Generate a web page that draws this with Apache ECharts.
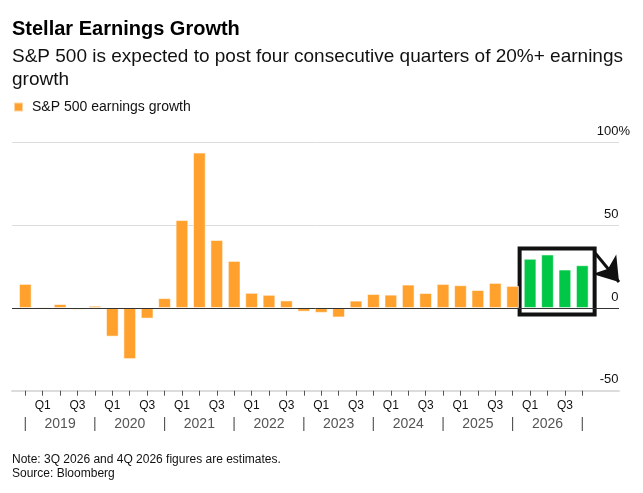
<!DOCTYPE html>
<html>
<head>
<meta charset="utf-8">
<script src="https://cdn.jsdelivr.net/npm/echarts@6/dist/echarts.min.js"></script>
<style>
  html, body { margin: 0; padding: 0; background: #fff; }
  #chart { width: 643px; height: 493px; }
</style>
</head>
<body>
<div id="chart"></div>
<script>
// quarters, 4Q 2018 .. 4Q 2026
var quarters = [
  '4Q 2018',
  '1Q 2019', '2Q 2019', '3Q 2019', '4Q 2019',
  '1Q 2020', '2Q 2020', '3Q 2020', '4Q 2020',
  '1Q 2021', '2Q 2021', '3Q 2021', '4Q 2021',
  '1Q 2022', '2Q 2022', '3Q 2022', '4Q 2022',
  '1Q 2023', '2Q 2023', '3Q 2023', '4Q 2023',
  '1Q 2024', '2Q 2024', '3Q 2024', '4Q 2024',
  '1Q 2025', '2Q 2025', '3Q 2025', '4Q 2025',
  '1Q 2026', '2Q 2026', '3Q 2026', '4Q 2026'
];
// S&P 500 earnings growth, % y/y
var growth = [
  14.6,
  0.8, 2.4, -1.0, 1.4,
  -17.3, -30.9, -6.4, 6.0,
  53.2, 94.0, 41.2, 28.5,
  9.2, 8.0, 4.6, -2.2,
  -2.9, -5.7, 4.5, 8.5,
  8.1, 14.2, 9.1, 14.6,
  13.8, 10.9, 15.2, 13.4,
  29.8, 32.4, 23.3, 25.9
];
var highlightFrom = '1Q 2026';
var yTicks = [-50, 0, 50, 100];

var orange = '#ffa12c';
var green = '#00c846';
var font = 'Liberation Sans';

var hi = quarters.indexOf(highlightFrom);
var barData = growth.map(function (v, i) {
  return { value: v, itemStyle: { color: i >= hi ? green : orange } };
});

var chart = echarts.init(document.getElementById('chart'));
chart.setOption({
  animation: false,
  textStyle: { fontFamily: font },
  title: {
    left: 12, top: 19, padding: 0, itemGap: 6,
    text: 'Stellar Earnings Growth',
    textStyle: { fontSize: 20, fontWeight: 'bold', color: '#000', lineHeight: 20 },
    subtext: 'S&P 500 is expected to post four consecutive quarters of 20%+ earnings\ngrowth',
    subtextStyle: { fontSize: 19, color: '#111', lineHeight: 23.4 }
  },
  legend: {
    left: 13, top: 100, padding: 0,
    icon: 'rect', itemWidth: 9, itemHeight: 9,
    textStyle: { fontSize: 14, color: '#111', padding: [0, 0, 0, 4] },
    data: ['S&P 500 earnings growth']
  },
  grid: [
    { left: 12, right: 24, top: 142.7, bottom: 102.3 },
    { left: 16.6, right: 52, top: 142.7, bottom: 102.3 }
  ],
  xAxis: [
    {
      gridIndex: 0, type: 'value', min: -0.764, max: 34.11,
      axisLine: { show: true, onZero: false, lineStyle: { color: '#dcdcdc', width: 2 } },
      axisTick: { show: false }, axisLabel: { show: false }, splitLine: { show: false }
    },
    {
      gridIndex: 1, type: 'category', data: quarters, position: 'bottom',
      axisLine: { show: false, onZero: false },
      axisTick: { show: true, alignWithLabel: true, interval: 0, length: 5, lineStyle: { color: '#555' } },
      axisLabel: {
        interval: 0, margin: 9, fontSize: 12, color: '#111',
        formatter: function (v, i) { return i % 4 === 1 ? 'Q1' : i % 4 === 3 ? 'Q3' : ''; }
      }
    },
    {
      gridIndex: 1, type: 'category', data: quarters, position: 'bottom',
      axisLine: { show: false, onZero: false }, axisTick: { show: false },
      axisLabel: {
        interval: 0, margin: 26, fontSize: 14, color: '#555',
        formatter: function (v, i) {
          if (i % 4 === 0) return '|';
          if (i % 4 === 2) return v.split(' ')[1];
          return '';
        }
      }
    }
  ],
  yAxis: [
    {
      gridIndex: 0, type: 'value', position: 'right',
      min: yTicks[0], max: yTicks[yTicks.length - 1], interval: 50,
      axisLine: { show: false }, axisTick: { show: false },
      splitLine: { lineStyle: { color: '#dcdcdc', width: 1 } },
      axisLabel: {
        margin: 11, align: 'right', verticalAlign: 'bottom',
        formatter: function (v) {
          return v === 100 ? '{n|' + v + '%}' : '{n|' + v + '}{h|%}';
        },
        rich: {
          n: { fontSize: 13, color: '#111', lineHeight: 22 },
          h: { fontSize: 13, color: 'rgba(0,0,0,0)', lineHeight: 22 }
        }
      }
    },
    {
      gridIndex: 1, type: 'value', min: yTicks[0], max: yTicks[yTicks.length - 1],
      show: false, splitLine: { show: false }
    }
  ],
  series: [
    {
      name: 'S&P 500 earnings growth', type: 'bar',
      xAxisIndex: 1, yAxisIndex: 1, barWidth: 12.7,
      itemStyle: { color: orange, borderColor: 'rgba(255,255,255,0.55)', borderWidth: 1 },
      data: barData
    },
    {
      // zero line
      type: 'line', xAxisIndex: 0, yAxisIndex: 0, z: 4,
      data: [], silent: true,
      markLine: {
        silent: true, symbol: 'none', label: { show: false },
        lineStyle: { color: '#333', width: 1, type: 'solid' },
        data: [{ yAxis: 0 }]
      }
    },
    {
      // box + arrow round the 2026 quarters
      type: 'line', xAxisIndex: 0, yAxisIndex: 0, z: 5,
      data: [], silent: true, clip: false,
      markArea: {
        silent: true,
        itemStyle: { color: 'rgba(0,0,0,0)', borderColor: '#111', borderWidth: 4 },
        data: [[{ coord: [28.4, 36] }, { coord: [32.71, -3.9] }]]
      },
      markLine: {
        silent: true, symbol: ['none', 'arrow'], symbolSize: 23,
        label: { show: false },
        lineStyle: { color: '#111', width: 3, type: 'solid' },
        data: [[{ coord: [32.69, 33.9] }, { coord: [34.11, 15.7] }]]
      }
    }
  ],
  graphic: [
    {
      type: 'text', left: 12, top: 453,
      style: {
        text: 'Note: 3Q 2026 and 4Q 2026 figures are estimates.\nSource: Bloomberg',
        font: '12px "Liberation Sans"', fill: '#111', lineHeight: 14
      }
    }
  ]
});
</script>
</body>
</html>
